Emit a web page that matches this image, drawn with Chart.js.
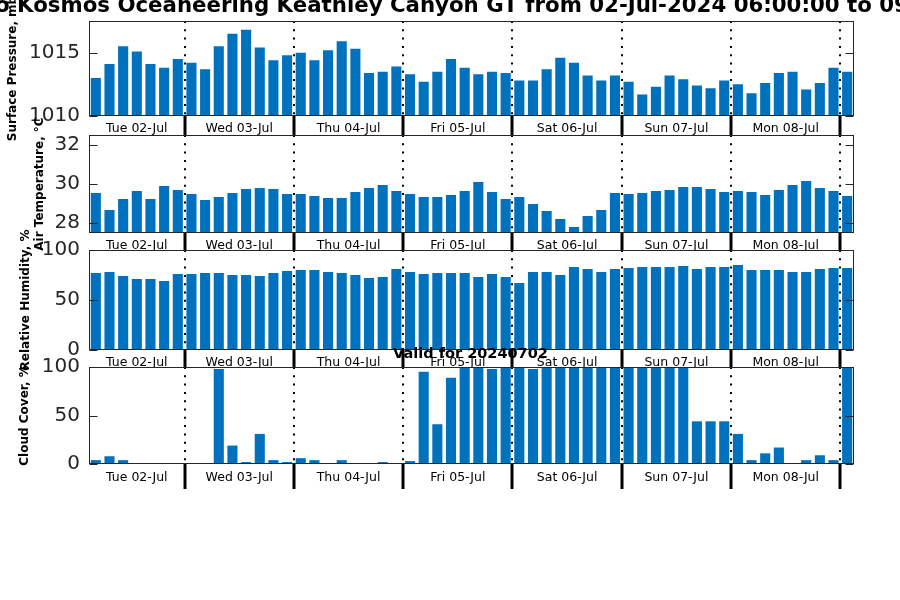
<!DOCTYPE html>
<html>
<head>
<meta charset="utf-8">
<script src="https://cdn.jsdelivr.net/npm/chart.js@4"></script>
<style>
    body { margin: 0; background: #fff; width: 900px; height: 600px; overflow: hidden; position: relative; }
    canvas { position: absolute; left: 0; top: 0; }
    #titulo { position: absolute; left: -5px; top: -6px; font: bold 21.3px/21px 'DejaVu Sans'; white-space: nowrap; color: #000; }
    #valido { position: absolute; left: 470.5px; top: 345.5px; transform: translateX(-50%); font: bold 14.5px/14.5px 'DejaVu Sans'; white-space: nowrap; color: #000; }
</style>
</head>
<body>
<canvas id="g1" width="900" height="600"></canvas>
<canvas id="g2" width="900" height="600"></canvas>
<canvas id="g3" width="900" height="600"></canvas>
<canvas id="g4" width="900" height="600"></canvas>
<div id="titulo">o Kosmos Oceaneering Keathley Canyon GT from 02-Jul-2024 06:00:00 to 09</div>
<div id="valido">Valid for 20240702</div>
<script>
// datos, una barra cada 3 horas
const dias = ['Tue 02-Jul', 'Wed 03-Jul', 'Thu 04-Jul', 'Fri 05-Jul', 'Sat 06-Jul', 'Sun 07-Jul', 'Mon 08-Jul', ''];
const barrasPorDia = [7, 8, 8, 8, 8, 8, 8, 1];

const presion = [
    1013.0, 1014.1, 1015.5, 1015.1, 1014.1, 1013.8, 1014.5,
    1014.2, 1013.7, 1015.5, 1016.5, 1016.8, 1015.4, 1014.4, 1014.8,
    1015.0, 1014.4, 1015.2, 1015.9, 1015.3, 1013.4, 1013.5, 1013.9,
    1013.3, 1012.7, 1013.5, 1014.5, 1013.8, 1013.3, 1013.5, 1013.4,
    1012.8, 1012.8, 1013.7, 1014.6, 1014.2, 1013.2, 1012.8, 1013.2,
    1012.7, 1011.7, 1012.3, 1013.2, 1012.9, 1012.4, 1012.2, 1012.8,
    1012.5, 1011.8, 1012.6, 1013.4, 1013.5, 1012.1, 1012.6, 1013.8,
    1013.5
];
const temperatura = [
    29.54, 28.67, 29.23, 29.64, 29.23, 29.90, 29.69,
    29.49, 29.18, 29.34, 29.54, 29.74, 29.80, 29.74, 29.49,
    29.49, 29.39, 29.29, 29.29, 29.59, 29.80, 29.95, 29.64,
    29.49, 29.34, 29.34, 29.44, 29.64, 30.10, 29.59, 29.23,
    29.34, 28.98, 28.62, 28.21, 27.80, 28.37, 28.67, 29.54,
    29.49, 29.54, 29.64, 29.69, 29.85, 29.85, 29.74, 29.59,
    29.64, 29.59, 29.44, 29.69, 29.95, 30.15, 29.80, 29.64,
    29.39
];
const humedad = [
    77, 78, 74, 71, 71, 69, 76,
    76, 77, 77, 75, 75, 74, 77, 79,
    80, 80, 78, 77, 75, 72, 73, 81,
    78, 76, 77, 77, 77, 73, 76, 73,
    67, 78, 78, 75, 83, 81, 78, 81,
    82, 83, 83, 83, 84, 81, 83, 83,
    85, 80, 80, 80, 78, 78, 81, 82,
    82
];
const nubes = [
    4, 8, 4, 0, 0, 0, 1,
    1, 0, 98, 19, 2, 31, 4, 2,
    6, 4, 0, 4, 1, 0, 2, 0,
    3, 95, 41, 89, 100, 100, 98, 100,
    100, 98, 100, 100, 100, 100, 100, 100,
    100, 100, 100, 100, 100, 44, 44, 44,
    31, 4, 11, 17, 1, 4, 9, 4,
    100
];

const ticksPresion = [1010, 1015];
const ticksTemperatura = [28, 30, 32];
const ticksHumedad = [0, 50, 100];
const ticksNubes = [0, 50, 100];

Chart.defaults.font.family = "'DejaVu Sans'";

// marcas del eje x: centro de cada dia (etiqueta) y cambio de dia (linea)
let ticksDias = [];
let inicio = -0.5;
for (let i = 0; i < dias.length; i++) {
    let fin = inicio + barrasPorDia[i];
    if (dias[i] !== '') ticksDias.push({ value: (inicio + fin) / 2, dia: dias[i] });
    if (i < dias.length - 1) ticksDias.push({ value: fin, borde: true });
    inicio = fin;
}
let totalBarras = barrasPorDia.reduce((a, b) => a + b, 0);

// caja alrededor del grafico con marcas hacia adentro
const marco = {
    id: 'marco',
    afterDatasetsDraw(chart) {
        let { ctx, chartArea: a, scales } = chart;
        let izq = Math.round(a.left) + 0.5, der = Math.round(a.right) - 0.5;
        let sup = Math.round(a.top) + 0.5, inf = Math.round(a.bottom) - 0.5;
        ctx.save();
        ctx.strokeStyle = '#262626';
        ctx.lineWidth = 1;
        ctx.strokeRect(izq, sup, der - izq, inf - sup);
        ctx.beginPath();
        scales.y.ticks.forEach(t => {
            let py = Math.round(scales.y.getPixelForValue(t.value)) + 0.5;
            ctx.moveTo(izq, py); ctx.lineTo(izq + 8, py);
            ctx.moveTo(der, py); ctx.lineTo(der - 8, py);
        });
        ctx.stroke();
        ctx.restore();
    }
};

const esBorde = c => !!(c.tick && c.tick.borde);

function crearPanel(id, valores, yMin, yMax, yTicks, tituloY, padTitulo, arriba, abajo, franja, padDias) {
    let ctx = document.getElementById(id).getContext('2d');
    return new Chart(ctx, {
        type: 'bar',
        data: {
            datasets: [{
                data: valores.map((v, i) => ({ x: i, y: v })),
                backgroundColor: '#0072BD',
                borderWidth: 0,
                barPercentage: 0.74,
                categoryPercentage: 1
            }]
        },
        options: {
            responsive: false,
            animation: false,
            events: [],
            layout: { padding: { left: 0, right: 46, top: arriba, bottom: 600 - abajo - franja } },
            plugins: { legend: { display: false }, tooltip: { enabled: false } },
            scales: {
                x: {
                    type: 'linear',
                    min: -0.5,
                    max: totalBarras - 0.5,
                    offset: false,
                    afterBuildTicks: s => { s.ticks = ticksDias.map(t => ({ ...t })); },
                    afterFit: s => { s.height = franja; },
                    grid: {
                        offset: false,
                        color: c => esBorde(c) ? '#000' : 'rgba(0,0,0,0)',
                        lineWidth: c => esBorde(c) ? 2 : 0,
                        tickLength: franja,
                        tickWidth: c => esBorde(c) ? 3 : 0,
                        tickColor: '#000'
                    },
                    border: { display: false, dash: [2, 6.3] },
                    ticks: {
                        autoSkip: false,
                        maxRotation: 0,
                        minRotation: 0,
                        padding: padDias,
                        color: '#000',
                        font: { size: 12.5 },
                        callback: (v, i, t) => t[i].dia || ''
                    }
                },
                y: {
                    min: yMin,
                    max: yMax,
                    afterBuildTicks: s => { s.ticks = yTicks.map(v => ({ value: v })); },
                    afterFit: s => { s.width = 89; },
                    grid: { display: false, drawTicks: false },
                    border: { display: false },
                    ticks: { padding: 9, color: '#262626', font: { size: 20 }, callback: v => String(v) },
                    title: {
                        display: true,
                        text: tituloY,
                        color: '#000',
                        font: { size: 12, weight: 'bold' },
                        padding: { top: padTitulo, bottom: 0 }
                    }
                }
            }
        },
        plugins: [marco]
    });
}

crearPanel('g1', presion, 1010, 1017.5, ticksPresion, 'Surface Pressure, mb', 5.7, 18, 116, 19, -13.5);
crearPanel('g2', temperatura, 27.5, 32.5, ticksTemperatura, 'Air Temperature, °C', 32.4, 135, 233, 17, -11.5);
crearPanel('g3', humedad, 0, 100, ticksHumedad, 'Relative Humidity, %', 18.3, 250, 350, 17, -11.5);
crearPanel('g4', nubes, 0, 100, ticksNubes, 'Cloud Cover, %', 17.3, 367, 464, 25, -18.5);
</script>
</body>
</html>
